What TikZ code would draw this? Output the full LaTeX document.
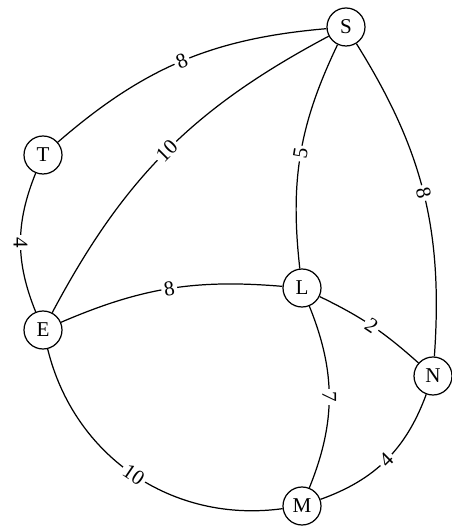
\documentclass[tikz,border=0pt]{standalone}
\usepackage{fontspec}
\setmainfont{Liberation Serif}
\tikzset{
  vertex/.style={draw,circle,minimum size=0.76cm,inner sep=0pt,font=\fontsize{12}{14}\selectfont},
  weight/.style={midway,sloped,fill=white,inner sep=1.5pt,font=\fontsize{12}{14}\selectfont}
}
\begin{document}
\begin{tikzpicture}[line width=0.7pt]
                \useasboundingbox(0,0)rectangle(9.02,10.54);
                \node[vertex](S)at(6.92,10.0){S};
                \node[vertex](T)at(0.86,7.44){T};
                \node[vertex](E)at(0.86,3.94){E};
                \node[vertex](L)at(6.04,4.78){L};
                \node[vertex](N)at(8.66,3.02){N};
                \node[vertex](M)at(6.04,0.42){M};
                \draw(T)to[bend left=18]node[weight]{8}(S);
                \draw(E)to[bend left=17]node[weight]{10}(S);
                \draw(T)to[bend right=22]node[weight]{4}(E);
                \draw(S)to[bend right=16]node[weight]{5}(L);
                \draw(S)to[bend left=18]node[weight]{8}(N);
                \draw(E)to[bend left=14]node[weight]{8}(L);
                \draw(L)to[bend left=8]node[weight]{2}(N);
                \draw(L)to[bend left=22]node[weight]{7}(M);
                \draw(E)to[bend right=42]node[weight]{10}(M);
                \draw(M)to[bend right=25]node[weight]{4}(N);
            \end{tikzpicture}
\end{document}
